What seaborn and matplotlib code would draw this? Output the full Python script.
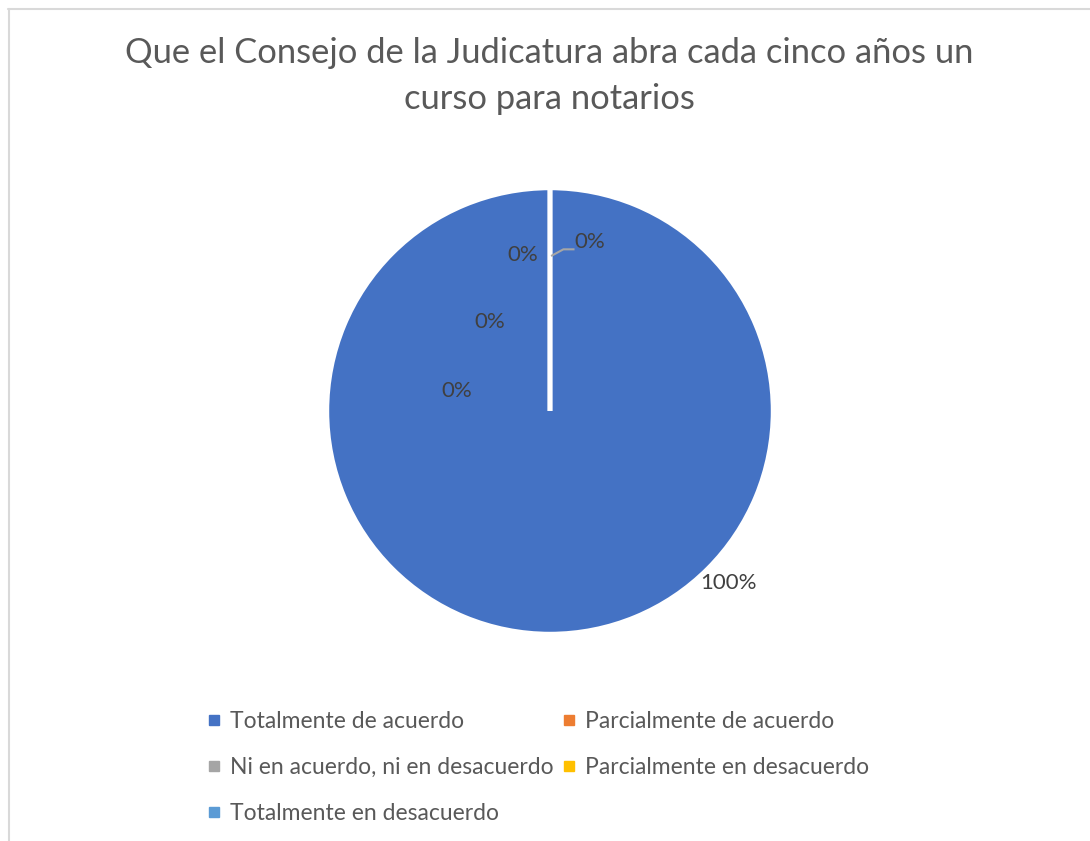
import matplotlib
matplotlib.use("Agg")
import matplotlib.pyplot as plt
from matplotlib.lines import Line2D
import seaborn as sns

# ---- data ----
title = "Que el Consejo de la Judicatura abra cada cinco años un\ncurso para notarios"
categories = ["Totalmente de acuerdo", "Parcialmente de acuerdo",
              "Ni en acuerdo, ni en desacuerdo", "Parcialmente en desacuerdo",
              "Totalmente en desacuerdo"]
values = [100, 0, 0, 0, 0]
colors = ["#4472C4", "#ED7D31", "#A5A5A5", "#FFC000", "#5B9BD5"]

sns.set_theme(style="white")
plt.rcParams["font.family"] = ["Lato", "DejaVu Sans"]

W, H = 1090, 841
fig = plt.figure(figsize=(W / 100, H / 100), dpi=100)
fig.patch.set_facecolor("white")

# chart border (light gray) at top and left
fig.add_artist(Line2D([8 / W, 1], [1 - 8.5 / H, 1 - 8.5 / H], transform=fig.transFigure,
                      color="#D9D9D9", lw=1.5))
fig.add_artist(Line2D([8.5 / W, 8.5 / W], [0, 1 - 8.5 / H], transform=fig.transFigure,
                      color="#D9D9D9", lw=1.5))

cx, cy, r = 550, 411, 223
ax = fig.add_axes([(cx - r) / W, (H - cy - r) / H, 2 * r / W, 2 * r / H])
wedges, _ = ax.pie(values, colors=colors, startangle=90, counterclock=False,
                   radius=1.0, wedgeprops=dict(edgecolor="white", linewidth=3.2))
ax.set_xlim(-1, 1)
ax.set_ylim(-1, 1)
ax.set_aspect("equal")
ax.axis("off")

total = sum(values)
pct = [f"{round(v / total * 100)}%" for v in values]
# label positions (pie-radius units)
label_pos = [(0.80, -0.77), (0.18, 0.76), (-0.12, 0.70), (-0.27, 0.40), (-0.42, 0.09)]
for txt, (lx, ly) in zip(pct, label_pos):
    ax.text(lx, ly, txt, ha="center", va="center", fontsize=16, color="#404040")
# leader line for one label
ax.plot([0.005, 0.06, 0.11], [0.695, 0.725, 0.725], color="#A6A6A6", lw=1.5,
        solid_capstyle="butt")

fig.text(549 / W, 1 - 76 / H, title, ha="center", va="center", fontsize=24.8,
         color="#595959", linespacing=1.52)

handles = [Line2D([], [], marker="s", linestyle="none", markersize=6.5,
                  markerfacecolor=c, markeredgecolor=c) for c in colors]
order = [0, 2, 4, 1, 3]
fig.legend([handles[i] for i in order], [categories[i] for i in order],
           loc="upper left", bbox_to_anchor=(208 / W, 1 - 711 / H), ncol=2,
           frameon=False, fontsize=16.5, labelcolor="#595959", handlelength=0.5,
           handletextpad=0.45, columnspacing=0.45, labelspacing=1.1,
           borderpad=0, borderaxespad=0)

fig.savefig("out.png", dpi=100, facecolor="white")
